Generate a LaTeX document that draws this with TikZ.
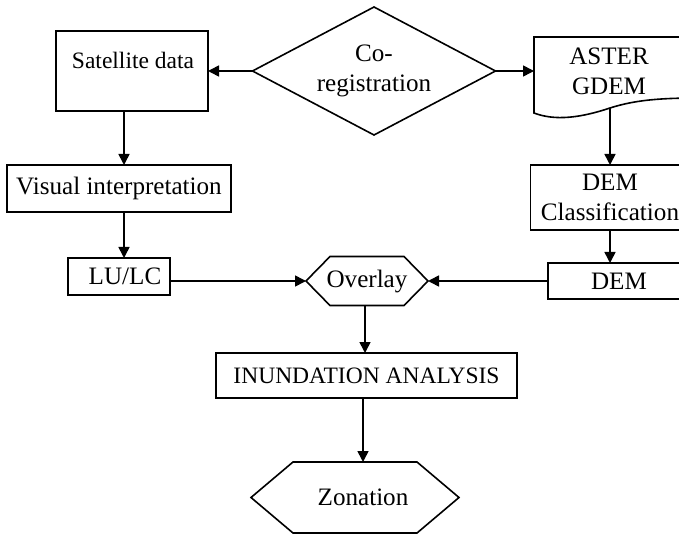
\documentclass[tikz,border=0pt]{standalone}
\usepackage{fontspec}
\setmainfont{Liberation Serif}
\usetikzlibrary{arrows.meta}
\begin{document}
\begin{tikzpicture}[x=1bp,y=-1bp,
  every node/.style={font=\fontsize{25.2}{30}\selectfont, inner sep=0pt, outer sep=0pt},
  small/.style={font=\fontsize{23.6}{28}\selectfont},
  box/.style={draw, rectangle, line width=1.6bp},
  ghost/.style={rectangle, draw=none, align=center},
  outline/.style={line width=1.6bp, line join=miter},
  flow/.style={line width=1.6bp, -{Triangle[length=11bp,width=11bp]}},
]
\fill[white] (0,0) rectangle (679,535);
\useasboundingbox (0,0) rectangle (679,535);

% left column
\node[box, minimum width=152bp, minimum height=80bp] (sat) at (132,71) {};
\node[small] (sattext) at (133,60) {Satellite data};
\node[box, minimum width=224bp, minimum height=47bp] (vis) at (119,188.5) {Visual interpretation};
\node[box, minimum width=102bp, minimum height=37bp] (lulc) at (119,276.5) {\hspace{12bp}LU/LC};

% decision diamond
\node[ghost, minimum width=243bp, minimum height=128bp] (coreg) at (374,71) {Co-\\registration};
\draw[outline] (coreg.west) -- (coreg.north) -- (coreg.east) -- (coreg.south) -- cycle;

% document shape with wavy bottom
\draw[outline] (534,37) -- (700,37) -- (700,98)
  .. controls (660,98) and (635,100) .. (610,108)
  .. controls (580,118) and (555,121) .. (534,113) -- cycle;
\node[align=center] (aster) at (609,71) {ASTER\\GDEM};
\coordinate (asterW) at (534,71);
\coordinate (asterS) at (610,108);

% right column
\node[box, align=center, minimum width=159bp, minimum height=65bp] (demc) at (610,197.5) {DEM\\Classification};
\node[box, minimum width=142bp, minimum height=36bp] (dem) at (619,281) {DEM\hspace{34bp}};

% overlay hexagon
\node[ghost, minimum width=122bp, minimum height=49bp] (ov) at (367,281) {Overlay};
\draw[outline] (ov.west) -- ([xshift=24bp]ov.north west) -- ([xshift=-24bp]ov.north east)
  -- (ov.east) -- ([xshift=-24bp]ov.south east) -- ([xshift=24bp]ov.south west) -- cycle;

% analysis and result
\node[box, small, minimum width=301bp, minimum height=45bp] (inund) at (366.5,375.5) {INUNDATION ANALYSIS};
\node[ghost, minimum width=208bp, minimum height=71bp] (zon) at (355,497.5) {\hspace{16bp}Zonation};
\draw[outline] (zon.west) -- ([xshift=42bp]zon.north west) -- ([xshift=-42bp]zon.north east)
  -- (zon.east) -- ([xshift=-42bp]zon.south east) -- ([xshift=42bp]zon.south west) -- cycle;

% connectors
\draw[flow] (coreg.west) -- (sat.east);
\draw[flow] (coreg.east) -- (asterW);
\draw[flow] ([xshift=5bp]vis.north |- sat.south) -- ([xshift=5bp]vis.north);
\draw[flow] ([xshift=5bp]vis.south) -- ([xshift=5bp]vis.south |- lulc.north);
\draw[flow] (asterS) -- (asterS |- demc.north);
\draw[flow] (demc.south) -- (demc.south |- dem.north);
\draw[flow] (lulc.east |- ov.west) -- (ov.west);
\draw[flow] (dem.west |- ov.east) -- (ov.east);
\draw[flow] ([xshift=-2bp]ov.south) -- ([xshift=-2bp]ov.south |- inund.north);
\draw[flow] ([xshift=-3.5bp]inund.south) -- ([xshift=-3.5bp]inund.south |- zon.north);
\end{tikzpicture}
\end{document}
